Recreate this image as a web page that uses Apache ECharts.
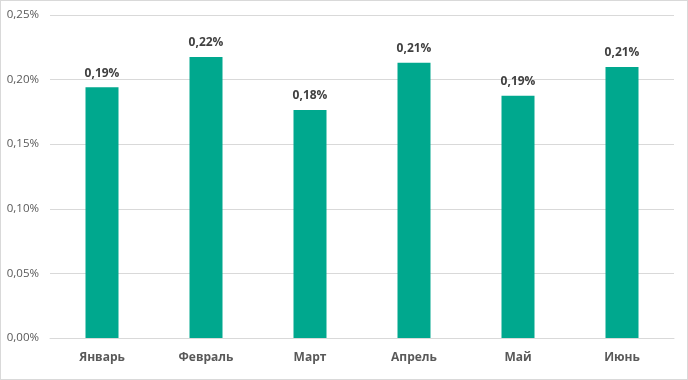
<!DOCTYPE html>
<html><head><meta charset="utf-8">
<script src="https://cdn.jsdelivr.net/npm/echarts@6/dist/echarts.min.js"></script>
<style>html,body{margin:0;padding:0;background:#fff}#c{width:686px;height:378px;border:1px solid #d9d9d9}</style>
</head><body><div id="c"></div>
<script>
const categories = ['Январь','Февраль','Март','Апрель','Май','Июнь'];
const values = [0.194, 0.2175, 0.1765, 0.213, 0.1875, 0.2098];
const yTicks = {min:0, max:0.25, interval:0.05};
const fmt = (v,d)=> v.toFixed(d).replace('.',',')+'%';
const chart = echarts.init(document.getElementById('c'));
chart.setOption({
  animation:false,
  grid:{left:49,right:13,top:14,bottom:41,containLabel:false},
  xAxis:{type:'category',data:categories,
    axisLine:{lineStyle:{color:'#d9d9d9'}},axisTick:{show:false},
    axisLabel:{color:'#595959',fontWeight:'bold',fontSize:12,fontFamily:'Open Sans, sans-serif',margin:14}},
  yAxis:{type:'value',min:yTicks.min,max:yTicks.max,interval:yTicks.interval,
    axisLine:{show:false},axisTick:{show:false},
    splitLine:{lineStyle:{color:'#d9d9d9'}},
    axisLabel:{color:'#595959',fontSize:11.5,fontFamily:'Open Sans, sans-serif',margin:11,formatter:v=>fmt(v,2)}},
  series:[{type:'bar',data:values,barWidth:33,itemStyle:{color:'#00a88e'},
    label:{show:true,position:'top',distance:8,color:'#404040',fontWeight:'bold',fontSize:12,fontFamily:'Open Sans, sans-serif',formatter:p=>fmt(p.value,2)}}]
});
</script></body></html>
